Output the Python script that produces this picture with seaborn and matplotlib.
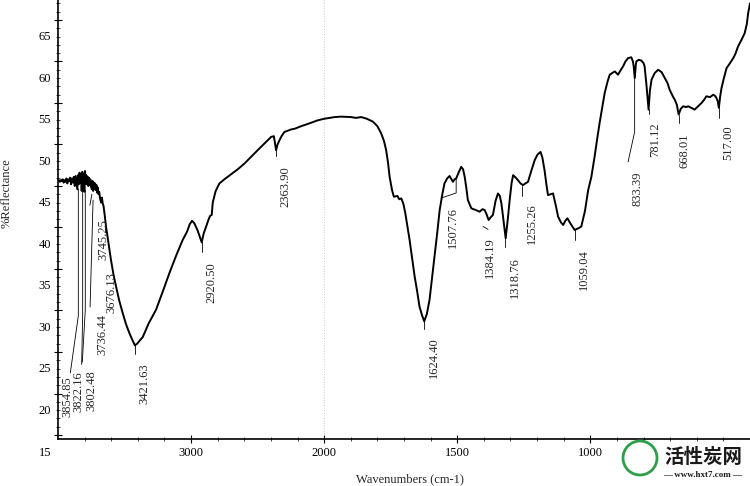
import numpy as np
import pandas as pd
import matplotlib
matplotlib.use("Agg")
import matplotlib.pyplot as plt
import matplotlib.transforms as mtransforms
from matplotlib.patches import Ellipse
from matplotlib.ticker import FixedLocator, MultipleLocator
import seaborn as sns

# spectrum (wavenumber in cm-1, %Reflectance)
wavenumber = [
    4000, 3993, 3986, 3979, 3972, 3965, 3958, 3951, 3944, 3937, 3930, 3923, 3916, 3909,
    3902, 3895, 3888, 3881, 3874, 3867, 3860, 3855, 3850, 3844, 3838, 3832, 3827, 3822,
    3817, 3812, 3807, 3802, 3797, 3792, 3787, 3782, 3777, 3772, 3767, 3762, 3757, 3752,
    3745, 3741, 3736, 3731, 3726, 3721, 3716, 3711, 3706, 3701, 3696, 3690, 3684, 3676,
    3670, 3664, 3658, 3650,
    3639, 3620, 3602, 3584, 3564, 3540, 3514, 3490, 3464, 3440, 3422,
    3405, 3385, 3363, 3320, 3263, 3210, 3163, 3110, 3063, 3030, 3010, 2993, 2975, 2950,
    2935, 2920, 2905, 2887, 2870, 2857, 2845, 2837, 2817, 2800, 2787, 2750, 2700, 2650,
    2599, 2550, 2500, 2450, 2399, 2378, 2370, 2361, 2350, 2336, 2320, 2299, 2250, 2220,
    2173, 2100, 2050, 1999, 1960, 1936, 1900, 1880, 1861, 1840, 1817, 1800, 1786, 1775,
    1767, 1760, 1754, 1745, 1738, 1725, 1718, 1710, 1702, 1695, 1688, 1679, 1670, 1660,
    1650, 1642, 1632, 1624, 1614, 1604, 1595, 1585, 1575, 1566, 1556, 1548, 1538, 1529,
    1516, 1510, 1504, 1495, 1485, 1478, 1472, 1466, 1460, 1447, 1430, 1416, 1405, 1397,
    1390, 1382, 1375, 1366, 1356, 1347, 1340, 1334, 1325, 1318, 1310, 1303, 1296, 1290,
    1280, 1272, 1262, 1253, 1244, 1234, 1222, 1209, 1198, 1187, 1180, 1172, 1165, 1159,
    1150, 1140, 1130, 1121, 1110, 1102, 1094, 1086, 1075, 1059, 1045, 1034, 1020, 1008,
    996, 984, 975, 965, 955, 946, 935, 927, 918, 908, 896, 885, 877, 868,
    858, 846, 840, 837, 833, 829, 827, 818, 808, 800, 796, 790, 781, 776,
    770, 758, 745, 732, 720, 710, 702, 690, 683, 675, 668, 660, 651, 640,
    632, 620, 608, 595, 582, 572, 564, 550, 538, 530, 526, 521, 517, 512,
    507, 498, 488, 475, 463, 455, 445, 432, 420, 412, 407, 400,
]
reflectance = [
    45.6, 45.7, 45.5, 45.7, 45.6, 45.8, 45.4, 45.7, 45.5, 45.9, 45.3, 45.8, 45.6, 46.0,
    45.2, 45.9, 45.4, 46.1, 45.0, 46.2, 45.3, 44.6, 46.3, 45.2, 46.6, 45.4, 46.2, 44.4,
    46.7, 45.5, 46.4, 44.3, 46.8, 45.3, 46.3, 45.2, 46.1, 45.0, 46.0, 45.1, 45.8, 44.9,
    44.6, 45.6, 44.4, 45.4, 44.7, 45.3, 44.5, 45.1, 44.2, 44.8, 44.0, 44.3, 43.5, 43.0,
    43.6, 42.9, 42.6, 41.6,
    40.1, 38.0, 36.1, 34.4, 32.9, 31.2, 29.7, 28.4, 27.3, 26.4, 25.8,
    26.0, 26.4, 26.8, 28.4, 30.1, 32.4, 34.5, 36.7, 38.5, 39.5, 40.4, 40.8, 40.5, 39.6,
    38.9, 38.2, 39.3, 40.1, 40.9, 41.4, 41.5, 43.0, 44.3, 44.9, 45.3, 45.8, 46.4, 47.0,
    47.7, 48.5, 49.3, 50.1, 50.9, 51.0, 50.2, 49.3, 50.0, 50.5, 51.0, 51.5, 51.8, 51.9,
    52.2, 52.6, 52.9, 53.1, 53.3, 53.35, 53.3, 53.2, 53.3, 53.1, 52.75, 52.2, 51.35, 50.4,
    49.3, 47.8, 46.1, 44.5, 43.7, 43.8, 43.4, 43.5, 42.8, 41.7, 40.3, 38.5, 36.4, 34.1,
    32.2, 30.5, 29.4, 28.7, 29.6, 31.3, 33.8, 36.5, 39.4, 42.1, 44.0, 45.3, 45.9, 46.2,
    45.5, 45.8, 45.9, 46.6, 47.3, 47.0, 46.1, 44.8, 43.3, 42.3, 42.1, 41.9, 42.2, 42.1,
    41.6, 40.9, 41.2, 41.5, 43.2, 44.1, 43.8, 42.9, 40.5, 38.7, 41.0, 43.3, 45.3, 46.3,
    46.0, 45.7, 45.3, 45.1, 45.3, 45.5, 46.8, 48.1, 48.8, 49.1, 48.4, 46.9, 45.2, 43.9,
    44.0, 44.1, 42.7, 41.3, 40.6, 40.3, 40.8, 41.1, 40.5, 39.7, 39.9, 40.1, 42.0, 44.5,
    46.1, 48.5, 50.5, 52.6, 54.5, 56.2, 57.6, 58.4, 58.6, 58.8, 58.4, 59.0, 59.4, 60.0,
    60.4, 60.5, 60.0, 59.4, 58.0, 59.6, 60.0, 60.2, 60.1, 59.8, 59.4, 57.5, 54.2, 56.5,
    57.8, 58.6, 59.0, 58.7, 58.0, 57.4, 56.6, 55.8, 55.4, 54.8, 53.6, 54.3, 54.6, 54.5,
    54.6, 54.4, 54.2, 54.6, 55.0, 55.4, 55.8, 55.7, 56.0, 55.8, 55.6, 55.2, 54.4, 55.8,
    56.8, 58.0, 59.2, 59.8, 60.4, 60.9, 61.8, 62.6, 63.4, 64.5, 65.8, 67.0,
]

peak_labels = ["3854.85", "3822.16", "3802.48", "3745.25", "3736.44", "3676.13",
               "3421.63", "2920.50", "2363.90", "1624.40", "1507.76", "1384.19",
               "1318.76", "1255.26", "1059.04", "833.39", "781.12", "668.01", "517.00"]

y_ticks = [15, 20, 25, 30, 35, 40, 45, 50, 55, 60, 65]
x_ticks = [3000, 2000, 1500, 1000]

# label placement in pixels relative to the peak point: leader path and text top
label_layout = {
    "3854.85": ([(1, 0), (1, 127), (-7, 184)], (-10, 187)),
    "3822.16": ([(1, 0), (1, 124), (0, 174)], (-3, 181)),
    "3802.48": ([(1, 0), (1, 120), (-2, 172)], (7, 180)),
    "3745.25": ([(0, 5), (-2, 16)], (11, 30)),
    "3736.44": ([(0, 10), (-3, 117)], (9, 124)),
    "3676.13": ([], (10, 70)),
    "3421.63": ([(0, 0), (0, 9)], (9, 18)),
    "2920.50": ([(0, 0), (0, 10)], (9.5, 20)),
    "2363.90": ([(0, 0), (0, 8)], (10, 18)),
    "1624.40": ([(0, 0), (0, 8)], (10, 16)),
    "1507.76": ([(1, 0), (1, 14), (-14, 19)], (-2, 28)),
    "1384.19": ([(-5, 8), (0, 11)], (2, 19)),
    "1318.76": ([(0, 0), (0, 10)], (9, 20)),
    "1255.26": ([(0, 1), (0, 11)], (10, 19)),
    "1059.04": ([(0, 0), (0, 10)], (9.5, 19)),
    "833.39": ([(0, 0), (0, 55), (-6.6, 85)], (3, 95)),
    "781.12": ([(0, 0), (0, 5)], (7, 13)),
    "668.01": ([(0, 0), (0, 8)], (6, 19)),
    "517.00": ([(0, 0), (0, 10)], (9, 17)),
}

df = pd.DataFrame({"wn": wavenumber, "refl": reflectance})

sns.set_style("ticks")
plt.rcParams["font.family"] = ["Liberation Serif", "DejaVu Serif"]
serif = ["Liberation Serif", "DejaVu Serif"]

fig = plt.figure(figsize=(7.5, 4.86), dpi=100)
ax = fig.add_axes([58 / 750, 47 / 486, 692 / 750, 439 / 486])

sns.lineplot(data=df, x="wn", y="refl", ax=ax, color="black", lw=1.4,
             estimator=None, sort=False)


# IR axis: 4000-2000 compressed by half
def fwd(x):
    x = np.asarray(x, dtype=float)
    return np.where(x > 2000, 2000 + (x - 2000) / 2, x)


def inv(u):
    u = np.asarray(u, dtype=float)
    return np.where(u > 2000, 2000 + (u - 2000) * 2, u)


ax.set_xscale("function", functions=(fwd, inv))
ax.set_xlim(4000, 400)
ax.set_ylim(14.52, 67.4)

ax.xaxis.set_major_locator(FixedLocator(x_ticks))
ax.set_xticklabels([str(t) for t in x_ticks])
minor_x = list(range(3800, 2000, -200)) + list(range(1900, 399, -100))
ax.xaxis.set_minor_locator(FixedLocator(minor_x))
ax.yaxis.set_major_locator(FixedLocator(y_ticks))
ax.set_yticklabels([str(t) for t in y_ticks])
ax.yaxis.set_minor_locator(MultipleLocator(1))

ax.tick_params(which="major", direction="inout", length=6, width=0.8, labelsize=9,
               colors="black")
ax.tick_params(which="minor", direction="inout", length=3, width=0.6)
ax.tick_params(axis="x", pad=3)
ax.tick_params(axis="y", pad=2)

# y tick labels sit a little below their ticks in the original
shift = mtransforms.ScaledTranslation(0, -0.16, fig.dpi_scale_trans)
for lab in ax.get_yticklabels():
    lab.set_transform(lab.get_transform() + shift)

sns.despine(ax=ax, top=True, right=True)
for s in ("left", "bottom"):
    ax.spines[s].set_linewidth(1.2)
    ax.spines[s].set_color("black")

ax.set_xlabel("")
ax.set_ylabel("")
ax.axvline(2000, color="#cccccc", lw=0.7, ls=":", zorder=0)

# peak labels
order = np.argsort(wavenumber)
wn_sorted = np.asarray(wavenumber, dtype=float)[order]
refl_sorted = np.asarray(reflectance, dtype=float)[order]
for lab in peak_labels:
    w = float(lab)
    v = float(np.interp(w, wn_sorted, refl_sorted))
    leader, (tdx, tdy) = label_layout[lab]
    if leader:
        x0, y0 = ax.transData.transform((w, v))
        pts = np.array([(x0 + dx, y0 - dy) for dx, dy in leader])
        dpts = ax.transData.inverted().transform(pts)
        ax.plot(dpts[:, 0], dpts[:, 1], color="black", lw=0.6)
    ax.annotate(lab, xy=(w, v), xytext=(tdx, -tdy), textcoords="offset pixels",
                rotation=90, ha="center", va="top", fontsize=9, family=serif)

fig.text(7 / 750, 1 - 193 / 486, "%Reflectance", rotation=90, ha="center",
         va="center", fontsize=9, family=serif)
fig.text(410 / 750, 1 - 479 / 486, "Wavenumbers (cm-1)", ha="center", va="center",
         fontsize=9, family=serif)

# site watermark in the lower right corner
fig.add_artist(Ellipse((640 / 750, 1 - 458 / 486), 34 / 750, 34 / 486,
                       transform=fig.transFigure, fill=False, ec="#2e9e4a", lw=2))
fig.text(703 / 750, 1 - 457 / 486, "活性炭网", ha="center", va="center",
         fontsize=14, fontweight="bold", color="#1a1a1a",
         family=["Noto Sans CJK SC", "DejaVu Sans"])
fig.text(703 / 750, 1 - 475 / 486, "— www.hxt7.com —", ha="center", va="center",
         fontsize=6.5, fontweight="bold", color="#1a1a1a", family=serif)

fig.savefig("out.png", dpi=100)
